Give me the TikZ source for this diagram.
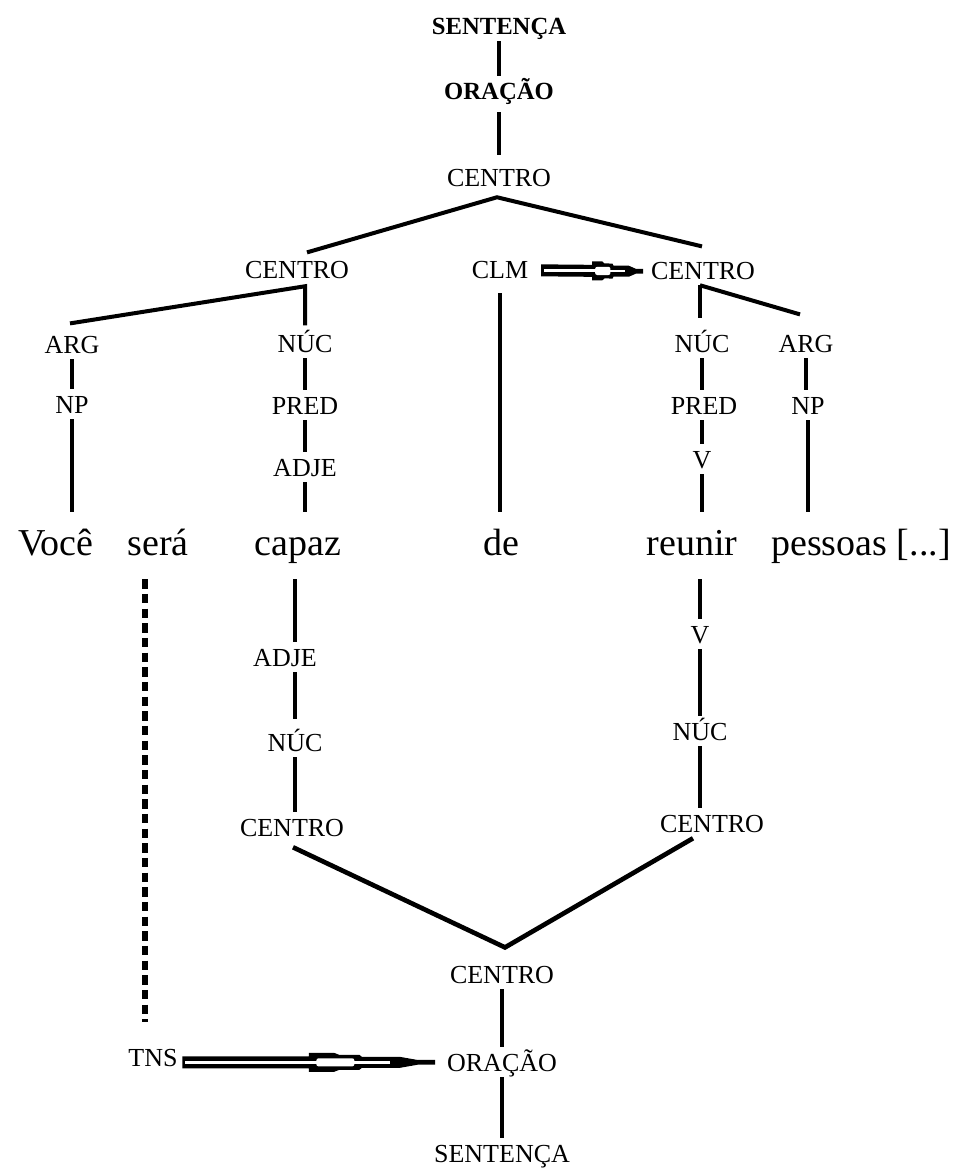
\documentclass[tikz,border=0pt]{standalone}
\usepackage{fontspec}
\setmainfont{Liberation Serif}
\usetikzlibrary{calc}
\newcommand{\dblArrow}[2]{%
\fill[black] ($(#1)+(0,-6)$) -- ($(#1)!0.5!(#2)+(0,-6)$) -- ($(#1)!0.5!(#2)+(0,-9.5)$) -- ($(#1)!0.6!(#2)+(0,-9.5)$) -- ($(#1)!0.62!(#2)+(0,-7.5)$) -- ($(#1)!0.7!(#2)+(0,-7.5)$) -- ($(#1)!0.71!(#2)+(0,-5.5)$) -- ($(#1)!0.86!(#2)+(0,-5.5)$) -- ($(#1)!0.93!(#2)+(0,-2.4)$) -- ($(#2)+(0,-2.4)$) -- ($(#2)+(0,2.4)$) -- ($(#1)!0.93!(#2)+(0,2.4)$) -- ($(#1)!0.86!(#2)+(0,5.5)$) -- ($(#1)!0.71!(#2)+(0,5.5)$) -- ($(#1)!0.7!(#2)+(0,7.5)$) -- ($(#1)!0.62!(#2)+(0,7.5)$) -- ($(#1)!0.6!(#2)+(0,9.5)$) -- ($(#1)!0.5!(#2)+(0,9.5)$) -- ($(#1)!0.5!(#2)+(0,6)$) -- ($(#1)+(0,6)$) -- cycle;
\fill[white] ($(#1)+(3,-1.3)$) rectangle ($(#1)!0.54!(#2)+(0,1.3)$);
\fill[white,rounded corners=1.5pt] ($(#1)!0.53!(#2)+(0,-4)$) rectangle ($(#1)!0.68!(#2)+(0,4)$);
\fill[white] ($(#1)!0.67!(#2)+(0,-1.2)$) rectangle ($(#1)!0.82!(#2)+(0,1.2)$);
}
\begin{document}
\begin{tikzpicture}[x=0.75pt,y=-0.75pt,
  lab/.style={font=\fontsize{19.5}{20}\selectfont, anchor=base, inner xsep=2pt, inner ysep=4.5pt, text height=13pt, text depth=0pt},
  toplab/.style={lab, font=\bfseries\fontsize{18.5}{20}\selectfont},
  word/.style={font=\fontsize{28.5}{30}\selectfont, anchor=base, inner xsep=2pt, inner ysep=12pt, text height=20pt, text depth=6pt},
  ln/.style={line width=3pt},
  thickln/.style={line width=3.5pt},
  dashln/.style={line width=4.3pt, dash pattern=on 7pt off 4pt}]
\useasboundingbox (0,0) rectangle (959,1169);
\fill[white] (0,0) rectangle (959,1169);

% upper projection
\node[toplab] (s1) at (499,35) {SENTENÇA};
\node[toplab] (o1) at (499,100) {ORAÇÃO};
\node[lab] (c1) at (499,187) {CENTRO};
\node[lab] (cl) at (297,278) {CENTRO};
\node[lab] (clm) at (500,279) {CLM};
\node[lab] (cr) at (703,280) {CENTRO};
\node[lab] (argL) at (72,353) {ARG};
\node[lab] (npL) at (72,413) {NP};
\node[lab] (nucL) at (305,352) {NÚC};
\node[lab] (predL) at (305,414) {PRED};
\node[lab] (adjeL) at (305,476) {ADJE};
\node[lab] (nucR) at (702,352) {NÚC};
\node[lab] (predR) at (704,414) {PRED};
\node[lab] (vR) at (702,468) {V};
\node[lab] (argR) at (806,352) {ARG};
\node[lab] (npR) at (808,414) {NP};

% words
\node[word] (voce) at (56,555) {Você};
\node[word] (sera) at (158,555) {será};
\node[word] (capaz) at (298,555) {capaz};
\node[word] (de) at (501,555) {de};
\node[word] (reunir) at (692,555) {reunir};
\node[word] (pessoas) at (861,555) {pessoas [...]};

% lower projection
\node[lab] (adjeL2) at (285,666) {ADJE};
\node[lab] (nucL2) at (295,751) {NÚC};
\node[lab] (cL2) at (292,836) {CENTRO};
\node[lab] (vR2) at (700,643) {V};
\node[lab] (nucR2) at (700,740) {NÚC};
\node[lab] (cR2) at (712,832) {CENTRO};
\node[lab] (cb) at (502,983) {CENTRO};
\node[lab] (ob) at (502,1071) {ORAÇÃO};
\node[lab] (sb) at (502,1162) {SENTENÇA};
\node[lab] (tns) at (153,1066) {TNS};
\coordinate (dashend) at (145,1022);

% upper connectors
\draw[ln] (s1.south) -- (o1.north);
\draw[ln, shorten <=4.5pt, shorten >=6pt] (o1.south) -- (c1.north);
\draw[ln] ($(cl.north)+(10,-2)$) -- ($(c1.south)+(-2,4)$) -- ($(cr.north)+(-1,-10)$);
\draw[ln] ($(argL.north)+(-2,-6)$) -- ($(cl.south)+(8,2)$) -- ($(nucL.north)+(0,-3)$);
\draw[ln] ($(cr.south)+(-3,-1)$) -- ($(nucR.north)+(-2,-10)$);
\draw[ln] ($(cr.south)+(-3,-1)$) -- ($(argR.north)+(-6,-14)$);
\draw[ln] (argL.south) -- (npL.north);
\draw[ln] (npL.south) -- (npL.south |- voce.north);
\draw[ln] (nucL.south) -- (predL.north);
\draw[ln] (predL.south) -- (predL.south |- adjeL.north);
\draw[ln] (adjeL.south) -- (adjeL.south |- capaz.north);
\draw[ln, shorten <=6pt] (clm.south) -- (clm.south |- de.north);
\draw[ln] (nucR.south) -- (nucR.south |- predR.north);
\draw[ln] (predR.south -| vR) -- (vR.north);
\draw[ln] (vR.south) -- (vR.south |- reunir.north);
\draw[ln] (argR.south) -- (argR.south |- npR.north);
\draw[ln] (npR.south) -- (npR.south |- pessoas.north);
\dblArrow{$(clm.east)+(10,0)$}{$(cr.west)+(-5,0)$}

% lower connectors
\draw[dashln] (sera.south -| dashend) -- (dashend);
\draw[ln] (capaz.south -| nucL2) -- (adjeL2.north -| nucL2);
\draw[ln, shorten >=6pt] (adjeL2.south -| nucL2) -- (nucL2.north);
\draw[ln] (nucL2.south) -- (nucL2.south |- cL2.north);
\draw[ln] (reunir.south -| vR2) -- (vR2.north);
\draw[ln] (vR2.south) -- (nucR2.north);
\draw[ln] (nucR2.south) -- (nucR2.south |- cR2.north);
\draw[thickln] ($(cL2.south)+(1,5)$) -- ($(cb.north)+(3,-12)$) -- ($(cR2.south)+(-19,0)$);
\draw[ln] (cb.south) -- (ob.north);
\draw[ln] (ob.south) -- (sb.north);
\dblArrow{$(tns.east |- ob.west)+(2,0)$}{$(ob.west)+(-9,0)$}
\end{tikzpicture}
\end{document}
